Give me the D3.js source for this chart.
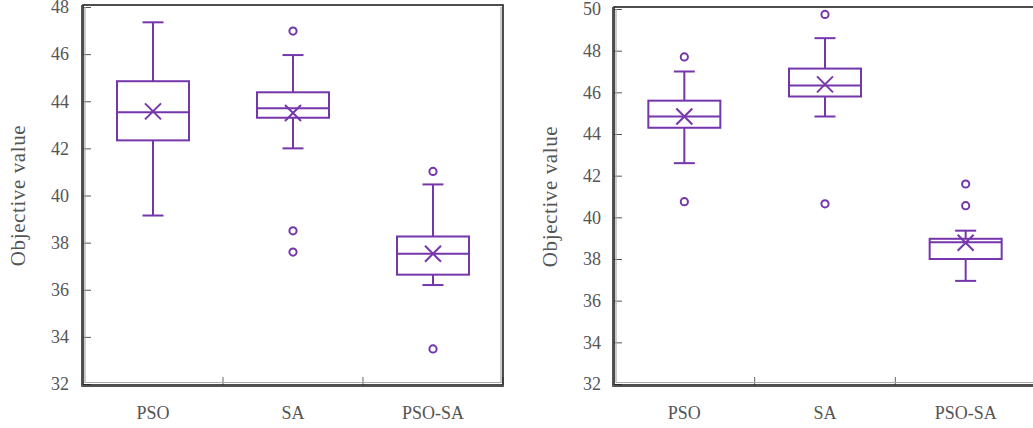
<!DOCTYPE html>
<html>
<head>
<meta charset="utf-8">
<script src="https://cdn.jsdelivr.net/npm/d3@7"></script>
<style>
  html, body { margin: 0; padding: 0; background: #fff; }
  svg { display: block; }
</style>
</head>
<body>
<svg id="chart" width="1033" height="428"></svg>
<script>
// ---- data ----
const categories = ["PSO", "SA", "PSO-SA"];

// left panel: [whiskerLow, q1, median, q3, whiskerHigh]
const leftStats = [
  [39.15, 42.34, 43.53, 44.85, 47.35],
  [42.0, 43.3, 43.7, 44.38, 45.96],
  [36.2, 36.64, 37.53, 38.26, 40.47]
];
const leftMeans = [43.57, 43.5, 37.53];
const leftOutliers = [[], [46.98, 38.5, 37.6], [41.02, 33.49]];
const leftTicks = [32, 34, 36, 38, 40, 42, 44, 46, 48];

// right panel
const rightStats = [
  [42.6, 44.3, 44.84, 45.6, 47.0],
  [44.84, 45.8, 46.33, 47.14, 48.6],
  [36.95, 38.0, 38.8, 38.97, 39.36]
];
const rightMeans = [44.84, 46.38, 38.78];
const rightOutliers = [[47.7, 40.75], [49.74, 40.65], [41.6, 40.56]];
const rightTicks = [32, 34, 36, 38, 40, 42, 44, 46, 48, 50];

const yLabel = "Objective value";

// ---- drawing ----
const svg = d3.select("#chart");
const purple = "#7536ac";
const font = "'Liberation Serif', 'DejaVu Serif', serif";

function panel(opts) {
  const { x0, x1, yTop, yBot, domain, ticks, stats, means, outliers, labelX, tickLabelX } = opts;
  const g = svg.append("g");
  const x = d3.scaleBand().domain(categories).range([x0, x1]).padding(0);
  const y = d3.scaleLinear().domain(domain).range([yBot, yTop]);

  // y axis ticks (inward)
  const yAxis = d3.axisRight(y).tickValues(ticks).tickSize(8).tickFormat("");
  g.append("g").attr("transform", `translate(${x0},0)`).call(yAxis)
    .call(s => s.select(".domain").remove())
    .call(s => s.selectAll(".tick line").attr("stroke", "#555").attr("stroke-width", 1));
  // y tick labels
  g.append("g").selectAll("text").data(ticks).join("text")
    .attr("x", tickLabelX).attr("y", d => y(d)).attr("dy", "0.35em")
    .attr("text-anchor", "end")
    .attr("font-family", font).attr("font-size", 18).attr("fill", "#555")
    .text(d => d);

  // x axis ticks at boundaries (inward)
  const bounds = categories.map(c => x(c) + x.bandwidth());
  g.append("g").selectAll("line").data(bounds).join("line")
    .attr("x1", d => d).attr("x2", d => d)
    .attr("y1", yBot + 1).attr("y2", yBot - 7)
    .attr("stroke", "#666").attr("stroke-width", 1);

  // x labels
  g.append("g").selectAll("text").data(categories).join("text")
    .attr("x", d => x(d) + x.bandwidth() / 2).attr("y", 413)
    .attr("dy", "0.35em")
    .attr("text-anchor", "middle")
    .attr("font-family", font).attr("font-size", 18).attr("fill", "#555")
    .text(d => d);

  // y label
  g.append("text")
    .attr("transform", `translate(${labelX},${(yTop + yBot) / 2}) rotate(-90)`)
    .attr("text-anchor", "middle").attr("dy", "0.35em")
    .attr("font-family", font).attr("font-size", 21).attr("fill", "#555")
    .attr("letter-spacing", "0.6")
    .text(yLabel);

  // frame
  g.append("rect")
    .attr("x", x0).attr("y", yTop - 2).attr("width", x1 - x0).attr("height", yBot - yTop + 3)
    .attr("fill", "none").attr("stroke", "#222").attr("stroke-width", 1.6);
  g.append("path")
    .attr("d", `M${x0 + 2},${yTop} V${yBot - 1.5} H${x1 - 2} V${yTop}`)
    .attr("fill", "none").attr("stroke", "#aaa").attr("stroke-width", 1.2);
  g.append("line").attr("x1", x0 - 1.5).attr("x2", x0 - 1.5).attr("y1", yTop - 2).attr("y2", yBot + 2.5)
    .attr("stroke", "#555").attr("stroke-width", 1);
  g.append("line").attr("x1", x0 - 1.5).attr("x2", x1 + 1).attr("y1", yBot + 2.5).attr("y2", yBot + 2.5)
    .attr("stroke", "#555").attr("stroke-width", 1);

  // boxes
  const bw = 72, cap = 21, mk = 8;
  categories.forEach((c, i) => {
    const cx = x(c) + x.bandwidth() / 2;
    const [lo, q1, med, q3, hi] = stats[i];
    const bg = g.append("g").attr("stroke", purple).attr("stroke-width", 2).attr("fill", "none");
    bg.append("line").attr("x1", cx).attr("x2", cx).attr("y1", y(hi)).attr("y2", y(q3));
    bg.append("line").attr("x1", cx).attr("x2", cx).attr("y1", y(q1)).attr("y2", y(lo));
    bg.append("line").attr("x1", cx - cap / 2).attr("x2", cx + cap / 2).attr("y1", y(hi)).attr("y2", y(hi));
    bg.append("line").attr("x1", cx - cap / 2).attr("x2", cx + cap / 2).attr("y1", y(lo)).attr("y2", y(lo));
    bg.append("rect").attr("x", cx - bw / 2).attr("y", y(q3)).attr("width", bw).attr("height", y(q1) - y(q3));
    bg.append("line").attr("x1", cx - bw / 2).attr("x2", cx + bw / 2).attr("y1", y(med)).attr("y2", y(med));
    const my = y(means[i]);
    bg.append("path").attr("d", `M${cx - mk},${my - mk} L${cx + mk},${my + mk} M${cx - mk},${my + mk} L${cx + mk},${my - mk}`);
    bg.selectAll("circle").data(outliers[i]).join("circle")
      .attr("cx", cx).attr("cy", d => y(d)).attr("r", 3.6);
  });
}

panel({
  x0: 83, x1: 503, yTop: 7, yBot: 384, domain: [32, 48],
  ticks: leftTicks, stats: leftStats, means: leftMeans, outliers: leftOutliers,
  labelX: 18, tickLabelX: 69
});
panel({
  x0: 614, x1: 1036, yTop: 9, yBot: 384, domain: [32, 50],
  ticks: rightTicks, stats: rightStats, means: rightMeans, outliers: rightOutliers,
  labelX: 550, tickLabelX: 601
});
</script>
</body>
</html>
